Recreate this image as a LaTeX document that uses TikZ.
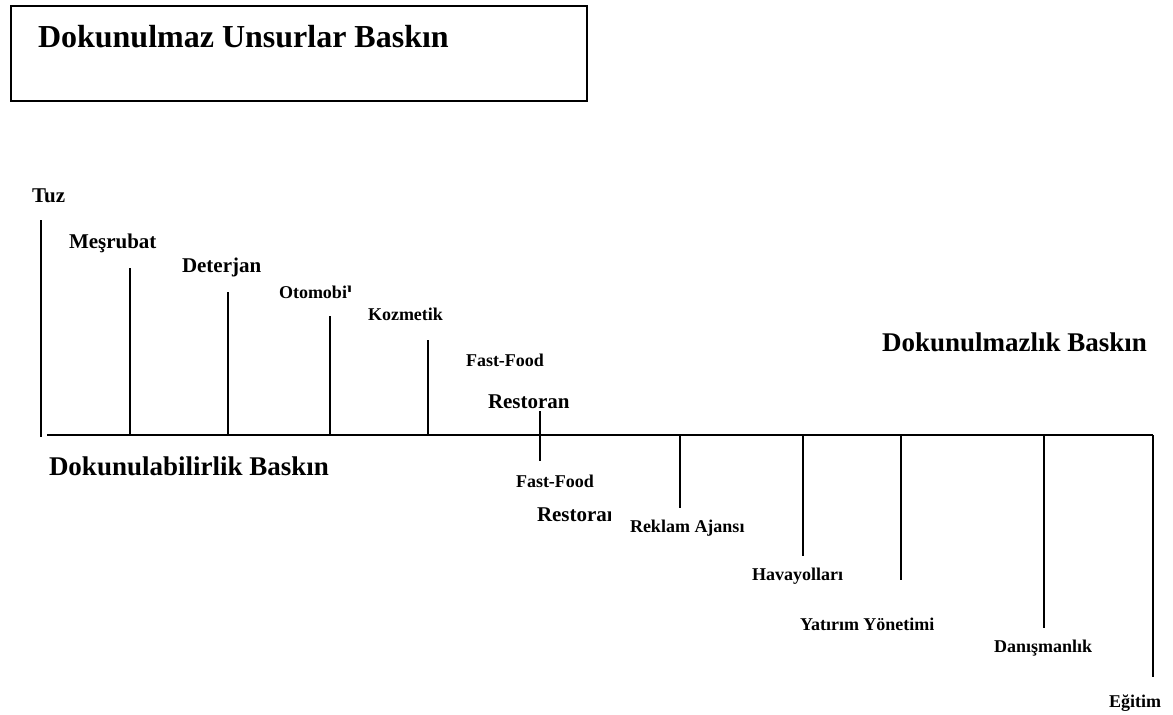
\documentclass[tikz,border=0pt]{standalone}
\usepackage{fontspec}
\setmainfont{Liberation Serif}
\begin{document}
\begin{tikzpicture}[x=1pt,y=-1pt,line width=2pt,
  lbl/.style={anchor=west,inner sep=0pt,font=\bfseries\fontsize{18}{20}\selectfont},
  lblm/.style={lbl,font=\bfseries\fontsize{21}{24}\selectfont},
  lblb/.style={lbl,font=\bfseries\fontsize{27}{30}\selectfont},
  lblt/.style={lbl,anchor=base west,font=\bfseries\fontsize{32}{36}\selectfont},
  stem/.style={line width=2pt}]
\useasboundingbox (0,0) rectangle (1173,715);

% header box
\node (box) [draw,line width=2pt,anchor=north west,inner sep=0pt,
  minimum width=576pt,minimum height=95pt] at (10,5) {};
\node (title) [lblt] at (37,47) {Dokunulmaz Unsurlar Baskın};

% main axis
\coordinate (axL) at (47,435);
\coordinate (axR) at (1153,435);
\draw[stem] (axL) -- (axR);

% tangible side: stems rising from the axis
\coordinate (tuzT) at (41,220);  \coordinate (tuzB) at (41,437);
\coordinate (mesT) at (130,268); \coordinate (mesB) at (130,435);
\coordinate (detT) at (228,292); \coordinate (detB) at (228,435);
\coordinate (otoT) at (330,316); \coordinate (otoB) at (330,435);
\coordinate (kozT) at (428,340); \coordinate (kozB) at (428,435);
\coordinate (ffT)  at (540,411); \coordinate (ffB)  at (540,461);
\draw[stem] (tuzT) -- (tuzB);
\draw[stem] (mesT) -- (mesB);
\draw[stem] (detT) -- (detB);
\draw[stem] (otoT) -- (otoB);
\draw[stem] (kozT) -- (kozB);
\draw[stem] (ffT) -- (ffB);

% intangible side: stems hanging below the axis
\coordinate (rekT) at (680,435);  \coordinate (rekB) at (680,508);
\coordinate (havT) at (803,435);  \coordinate (havB) at (803,556);
\coordinate (yatT) at (901,435);  \coordinate (yatB) at (901,580);
\coordinate (danT) at (1044,435); \coordinate (danB) at (1044,628);
\coordinate (egiT) at (1153,435); \coordinate (egiB) at (1153,677);
\draw[stem] (rekT) -- (rekB);
\draw[stem] (havT) -- (havB);
\draw[stem] (yatT) -- (yatB);
\draw[stem] (danT) -- (danB);
\draw[stem] (egiT) -- (egiB);

% labels
\node (tuz) [lblm] at (31,196) {Tuz};
\node (mes) [lblm] at (68,243) {Meşrubat};
\node (det) [lblm] at (181,267) {Deterjan};
\begin{scope}
  % the final letter is cut off below its top part
  \clip (270,270) rectangle (346,310) (346,270) rectangle (360,291);
  \node (oto) [lbl] at (278,292) {Otomobil};
\end{scope}
\node (koz) [lbl]  at (367,314) {Kozmetik};
\node (ff1) [lbl]  at (465,360) {Fast-Food};
\node (re1) [lblm] at (487,402) {Restoran};
\node (ff2) [lbl]  at (515,481) {Fast-Food};
\begin{scope}
  \clip (525,500) rectangle (610,535);
  \node (re2) [lblm] at (536,515) {Restoran};
\end{scope}
\node (rek) [lbl] at (629,528) {Reklam Ajansı};
\node (hav) [lbl] at (751,576) {Havayolları};
\node (yat) [lbl] at (799,624) {Yatırım Yönetimi};
\node (dan) [lbl] at (993,648) {Danışmanlık};
\node (egi) [lbl] at (1108,703) {Eğitim};

\node (intang) [lblb] at (881,342) {Dokunulmazlık Baskın};
\node (tang)   [lblb] at (48,466)  {Dokunulabilirlik Baskın};
\end{tikzpicture}
\end{document}
